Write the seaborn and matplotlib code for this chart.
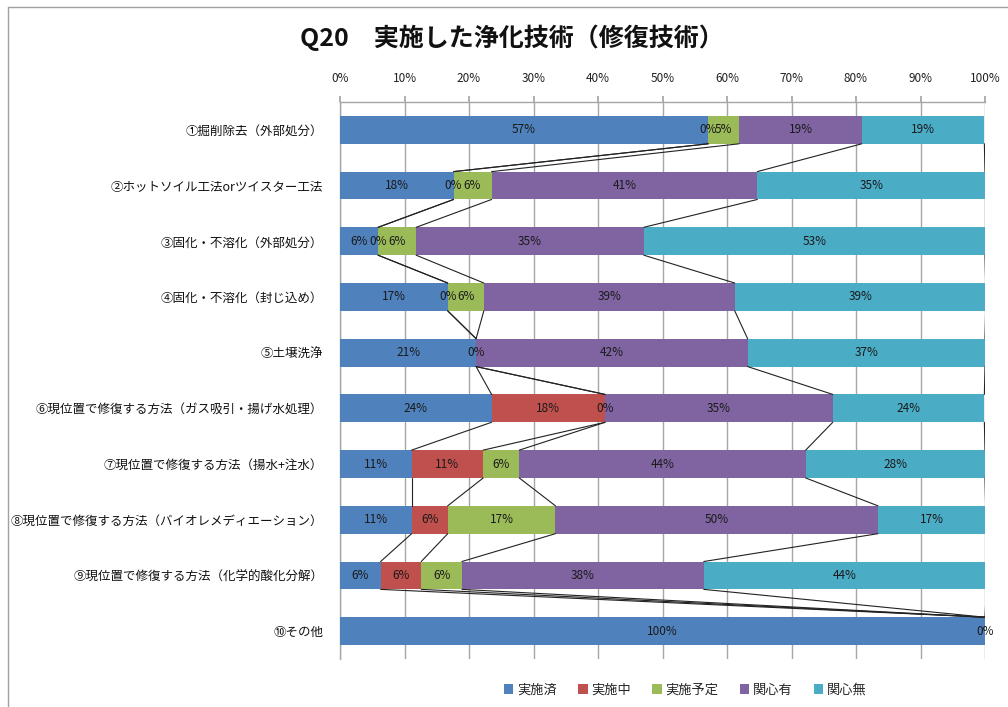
import matplotlib
matplotlib.use("Agg")
import matplotlib.pyplot as plt
from matplotlib.patches import Patch
from matplotlib.lines import Line2D
import seaborn as sns
import numpy as np
import pandas as pd

# Categories (top to bottom)
categories = [
    "①掘削除去（外部処分）",
    "②ホットソイル工法orツイスター工法",
    "③固化・不溶化（外部処分）",
    "④固化・不溶化（封じ込め）",
    "⑤土壌洗浄",
    "⑥現位置で修復する方法（ガス吸引・揚げ水処理）",
    "⑦現位置で修復する方法（揚水+注水）",
    "⑧現位置で修復する方法（バイオレメディエーション）",
    "⑨現位置で修復する方法（化学的酸化分解）",
    "⑩その他",
]

series_names = ["実施済", "実施中", "実施予定", "関心有", "関心無"]

# Shares in percent
done = [57.1, 17.6, 5.9, 16.7, 21.1, 23.5, 11.1, 11.1, 6.3, 100.0]
ongoing = [0.0, 0.0, 0.0, 0.0, 0.0, 17.6, 11.1, 5.6, 6.3, 0.0]
planned = [4.8, 5.9, 5.9, 5.6, 0.0, 0.0, 5.6, 16.7, 6.3, 0.0]
interested = [19.0, 41.2, 35.3, 38.9, 42.1, 35.3, 44.4, 50.0, 37.5, 0.0]
not_interested = [19.0, 35.3, 52.9, 38.9, 36.8, 23.5, 27.8, 16.7, 43.8, 0.0]

colors = ["#4F81BD", "#C0504D", "#9BBB59", "#8064A2", "#4BACC6"]

sns.set_theme(style="white")
plt.rcParams["font.family"] = ["Noto Sans CJK JP", "DejaVu Sans"]

vals = np.array([done, ongoing, planned, interested, not_interested]).T
cum = np.cumsum(vals, axis=1)
starts = cum - vals

fig = plt.figure(figsize=(10.08, 7.07), dpi=100)
ax = fig.add_axes([340 / 1008, 48 / 707, 645 / 1008, 557 / 707])

# stacked bars: draw cumulative totals from the widest down
for k in reversed(range(len(series_names))):
    df = pd.DataFrame({"cat": categories, "val": cum[:, k]})
    sns.barplot(data=df, x="val", y="cat", orient="h", color=colors[k],
                saturation=1, width=0.5, linewidth=0, ax=ax, zorder=3)

# series lines between neighbouring bars
n = len(categories)
for k in range(len(series_names)):
    for i in range(n - 1):
        ax.plot([cum[i, k], cum[i + 1, k]], [i + 0.25, i + 1 - 0.25],
                color="#222222", lw=0.8, zorder=4)

# data labels (identical labels stacked on one spot are drawn once)
for i in range(n):
    seen = set()
    for k in range(len(series_names)):
        xc = starts[i, k] + vals[i, k] / 2
        txt = f"{vals[i, k]:.0f}%"
        key = (round(xc, 1), txt)
        if key in seen:
            continue
        seen.add(key)
        ax.text(xc, i, txt, ha="center", va="center",
                fontsize=8.5, color="#1a1a1a", zorder=5)

ax.set_xlim(0, 100)
ax.set_ylim(n - 0.5, -0.5)
ax.set_xticks(np.arange(0, 101, 10))
ax.set_xticklabels([f"{t}%" for t in range(0, 101, 10)])
ax.xaxis.tick_top()
ax.xaxis.set_label_position("top")
ax.set_xlabel("")
ax.set_ylabel("")
ax.grid(axis="x", color="#A6A6A6", lw=1, zorder=0)
ax.tick_params(axis="x", which="both", top=True, direction="out", length=4,
               color="#A6A6A6", labelsize=8.5, pad=8, colors="#222222")
ax.tick_params(axis="y", length=0, labelsize=9, pad=12, colors="#111111")
for side in ["right", "bottom"]:
    ax.spines[side].set_visible(False)
for side in ["top", "left"]:
    ax.spines[side].set_color("#A6A6A6")
    ax.spines[side].set_linewidth(1)

fig.text(0.508, 0.946, "Q20　実施した浄化技術（修復技術）", ha="center", va="center",
         fontsize=18, fontweight="bold", color="#111111")

handles = [Patch(facecolor=c, edgecolor="none") for c in colors]
fig.legend(handles, series_names, loc="center", bbox_to_anchor=(0.68, 0.024),
           ncol=5, frameon=False, fontsize=9.5, handlelength=0.7, handleheight=0.7,
           handletextpad=0.3, columnspacing=1.6)

# chart-area border (top and left visible in the screenshot)
fig.add_artist(Line2D([8 / 1008, 1], [1 - 7 / 707, 1 - 7 / 707],
                      transform=fig.transFigure, color="#A0A0A0", lw=1))
fig.add_artist(Line2D([8 / 1008, 8 / 1008], [0, 1 - 7 / 707],
                      transform=fig.transFigure, color="#A0A0A0", lw=1))

fig.savefig("out.png", dpi=100)
